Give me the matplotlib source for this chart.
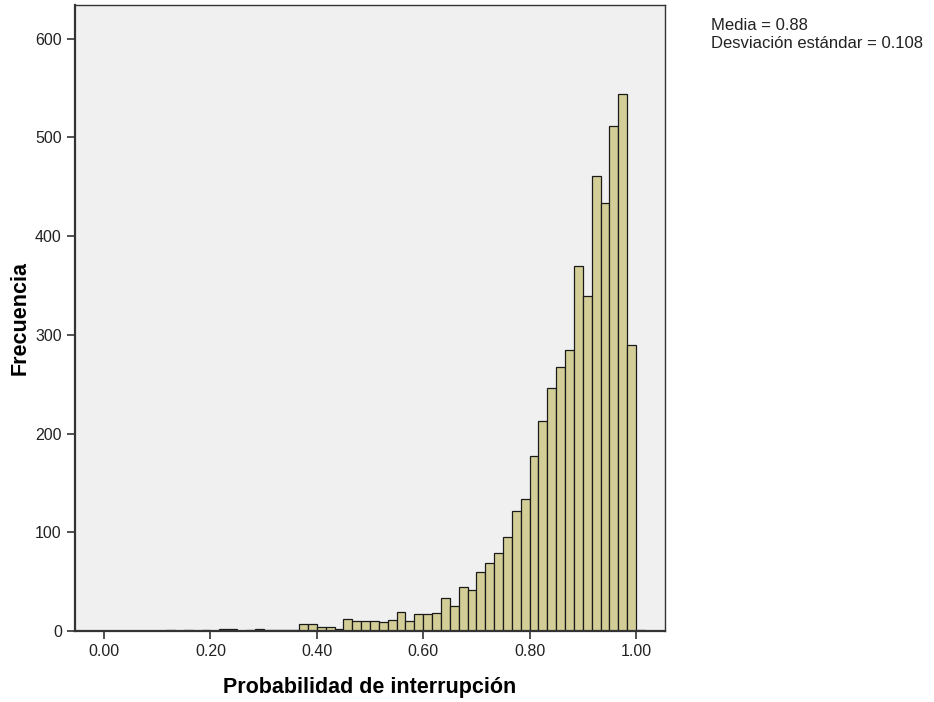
import numpy as np
import matplotlib
matplotlib.use("Agg")
import matplotlib.pyplot as plt

plt.rcParams["font.family"] = ["Liberation Sans", "DejaVu Sans"]

# histogram counts, bins of width 1/60 starting at 0.00
bin_width = 1 / 60
counts = [0, 0, 0, 0, 0, 0, 0, 1, 0, 1,
          0, 1, 0, 2, 2, 0, 1, 2, 1, 1,
          1, 1, 7, 7, 4, 4, 2, 12, 10, 10,
          10, 9, 11, 19, 10, 17, 17, 18, 33, 25,
          45, 42, 60, 69, 79, 95, 122, 134, 177, 213,
          246, 267, 285, 370, 339, 461, 433, 511, 544, 290,
          1]
x_ticks = [0.0, 0.2, 0.4, 0.6, 0.8, 1.0]
y_ticks = [0, 100, 200, 300, 400, 500, 600]
stats_text = ["Media = 0.88", "Desviación estándar = 0.108"]

counts = np.array(counts)
left_edges = np.arange(len(counts)) * bin_width
keep = counts > 0

fig = plt.figure(figsize=(9.34, 7.02), dpi=100)
ax = fig.add_axes([75 / 934, 1 - 631 / 702, 590 / 934, 626 / 702])
ax.set_facecolor("#F0F0F0")

ax.bar(left_edges[keep], counts[keep], width=bin_width, align="edge",
       color="#D3CE97", edgecolor="#1a1a1a", linewidth=0.9)

ax.set_xlim(-0.0545, 1.0545)
ax.set_ylim(0, 634)
ax.set_xticks(x_ticks)
ax.set_xticklabels([f"{v:.2f}" for v in x_ticks])
ax.set_yticks(y_ticks)
ax.tick_params(axis="both", length=6, width=1.2, color="#333333",
               labelsize=11.5, labelcolor="#222222")

for s in ax.spines.values():
    s.set_color("#333333")
    s.set_linewidth(1.0)
ax.spines["left"].set_linewidth(1.6)
ax.spines["bottom"].set_linewidth(1.6)

ax.set_xlabel("Probabilidad de interrupción", fontsize=15.5, fontweight="bold")
ax.set_ylabel("Frecuencia", fontsize=15.5, fontweight="bold")
ax.xaxis.set_label_coords(0.5, -(688 - 631) / 626, transform=ax.transAxes)
ax.yaxis.set_label_coords(-(75 - 20) / 590, 0.5, transform=ax.transAxes)
ax.xaxis.label.set_va("center")
ax.yaxis.label.set_va("center")

fig.text(711 / 934, 1 - 26 / 702, stats_text[0], fontsize=12,
         color="#222222", va="center", ha="left")
fig.text(711 / 934, 1 - 44 / 702, stats_text[1], fontsize=12,
         color="#222222", va="center", ha="left")

fig.savefig("out.png", dpi=100)
